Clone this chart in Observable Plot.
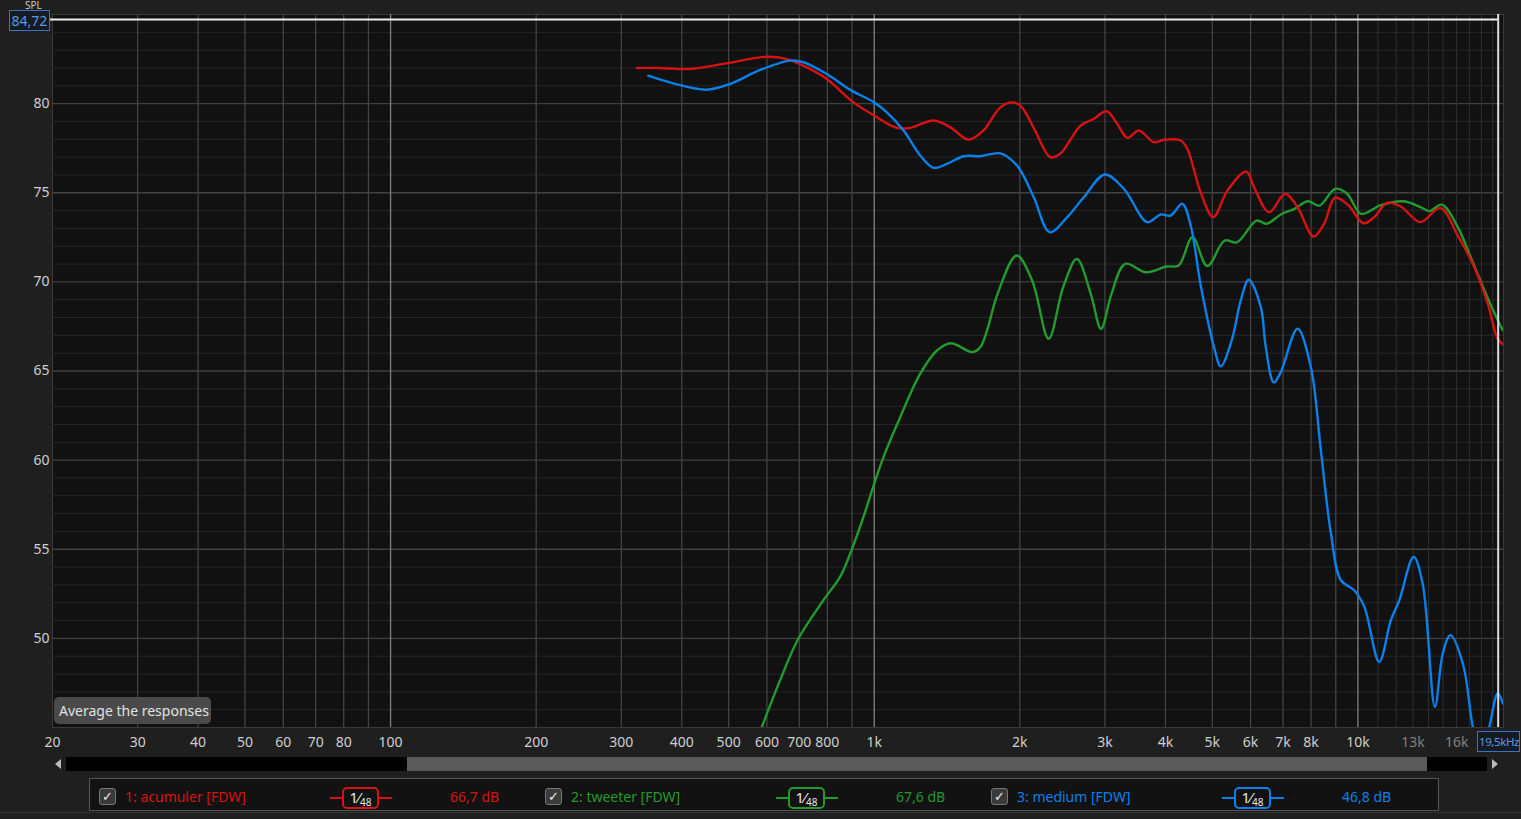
<!DOCTYPE html>
<html>
<head>
<meta charset="utf-8">
<script src="https://cdn.jsdelivr.net/npm/d3@7"></script>
<script src="https://cdn.jsdelivr.net/npm/@observablehq/plot@0.6"></script>
<style>
  html, body { margin: 0; padding: 0; background: #1f1f1f; overflow: hidden; }
  #wrap { position: relative; width: 1521px; height: 819px; font-family: "Noto Sans", "Open Sans", sans-serif; font-size: 14px; }
  #chart { position: absolute; left: 0; top: 0; }
  .abs { position: absolute; box-sizing: border-box; white-space: nowrap; }
  .cbox { position: absolute; box-sizing: border-box; width: 17px; height: 17px; border: 1px solid #777; border-radius: 3px; background: #3a3a3a; color: #eee; font-family: "DejaVu Sans", sans-serif; font-size: 13px; line-height: 15px; text-align: center; }
  .sbox .one { font-size: 15px; }
  .sbox .sl { font-size: 15px; }
  .sbox .den { font-size: 10px; position: relative; top: 3px; }
</style>
</head>
<body>
<div id="wrap">
  <div id="chart"></div>
</div>
<script>
// ---- data (frequency in Hz, level in dB SPL) ----
const acumulerHz = [323,360,416,495,600,660,726,798,906,1000,1114,1187,1327,1437,1568,1681,1823,1928,2006,2134,2314,2427,2670,2841,3022,3181,3337,3526,3787,3972,4300,4440,4732,5022,5373,5877,6100,6553,7072,7503,8096,8516,8960,9521,10270,10810,11480,12270,13460,14810,16090,17410,18560,19460,19940];
const acumulerDb = [82.0,82.0,81.95,82.26,82.63,82.5,82.03,81.38,80.07,79.33,78.64,78.64,79.05,78.67,77.98,78.49,79.79,80.07,79.89,78.67,76.99,77.2,78.77,79.14,79.57,78.86,78.08,78.49,77.83,77.97,77.93,77.46,75.01,73.63,75.12,76.19,75.31,73.91,74.94,74.19,72.54,73.26,74.71,74.34,73.29,73.63,74.43,74.23,73.35,74.15,72.6,70.82,68.77,66.8,66.5];

const tweeterHz = [572,639,697,785,850,892,950,1000,1045,1132,1245,1348,1441,1594,1657,1711,1799,1970,2121,2294,2458,2624,2803,2944,3094,3303,3645,4024,4260,4550,4882,5304,5618,6171,6481,6927,7406,7879,8332,8974,9488,10160,11160,12430,13530,14050,14910,16090,17220,18840,19940];
const tweeterDb = [44.3,47.66,49.99,52.14,53.45,54.76,56.81,58.68,60.17,62.42,64.85,66.15,66.56,66.06,66.34,67.28,69.33,71.48,70.08,66.81,69.7,71.29,69.33,67.37,69.33,71.01,70.54,70.86,70.92,72.51,70.89,72.32,72.21,73.44,73.26,73.78,74.11,74.52,74.28,75.22,74.96,73.82,74.31,74.52,74.17,73.97,74.33,73.07,71.2,68.68,67.28];

const mediumHz = [341,384,450,503,581,670,714,798,892,1000,1062,1150,1245,1327,1414,1531,1657,1823,1974,2137,2306,2506,2713,2998,3283,3669,3910,4101,4335,4511,4732,5041,5205,5484,5725,5947,6299,6449,6700,6927,7503,7992,8384,8794,9222,9824,10310,11070,11700,12180,13040,13610,14430,14980,15530,16480,17280,17980,18700,19460,19940];
const mediumDb = [81.57,81.14,80.78,81.1,81.89,82.41,82.32,81.66,80.77,80.07,79.51,78.49,77.09,76.4,76.62,77.05,77.05,77.21,76.52,74.75,72.79,73.63,74.75,76.02,75.22,73.35,73.78,73.72,74.38,73.16,69.8,66.34,65.26,66.72,68.96,70.12,68.58,66.34,64.36,64.94,67.37,65.22,60.55,55.9,53.26,52.7,51.77,48.68,51.02,52.14,54.57,53.08,46.16,49.15,50.18,48.59,45.04,43.2,45.04,46.91,46.35];

const seriesNames = ["1: acumuler [FDW]", "2: tweeter [FDW]", "3: medium [FDW]"];
const cursorValues = ["66,7 dB", "67,6 dB", "46,8 dB"];
const cursorHz = 19500;
const cursorDb = 84.72;

const xTickHz = [20,30,40,50,60,70,80,100,200,300,400,500,600,700,800,1000,2000,3000,4000,5000,6000,7000,8000,10000,13000,16000];
const dimTickHz = [13000,16000];
const gridHz = [30,40,50,60,70,80,90,200,300,400,500,600,700,800,900,2000,3000,4000,5000,6000,7000,8000,9000];
const fineGridHz = [11000,12000,13000,14000,15000,16000,17000,18000,19000];
const decadeHz = [100,1000,10000];
const yTicks = [50,55,60,65,70,75,80];
const yMinor = d3.range(46, 85).filter(v => v % 5 !== 0);

// ---- build ----
const colors = {red: "#d81212", green: "#229a2e", blue: "#0b80ea"};
const mk = (hz, db) => hz.map((f, i) => ({f, db: db[i]}));
const acumuler = mk(acumulerHz, acumulerDb);
const tweeter = mk(tweeterHz, tweeterDb);
const medium = mk(mediumHz, mediumDb);
const fmt = f => f >= 1000 ? (f / 1000) + "k" : String(f);

const W = 1521, H = 757;
const plot = Plot.plot({
  width: W, height: H,
  marginLeft: 52, marginRight: 18, marginTop: 14, marginBottom: 30,
  x: {type: "log", domain: [20, 20000], axis: null},
  y: {domain: [45, 85], axis: null},
  style: {background: "transparent", fontFamily: "'Noto Sans', 'Open Sans', sans-serif", fontSize: "14px", overflow: "visible"},
  marks: [
    Plot.frame({fill: "#111111", stroke: "#3a3a3a"}),
    Plot.ruleY(yMinor, {y: d => d, stroke: "#272727", strokeWidth: 1}),
    Plot.ruleY(yTicks, {y: d => d, stroke: "#414141", strokeWidth: 1.3}),
    Plot.ruleX(fineGridHz, {x: d => d, stroke: "#2f2f2f", strokeWidth: 1}),
    Plot.ruleX(gridHz, {x: d => d, stroke: "#434343", strokeWidth: 1.3}),
    Plot.ruleX(decadeHz, {x: d => d, stroke: "#808080", strokeWidth: 1.3}),
    Plot.line(tweeter, {x: "f", y: "db", stroke: colors.green, strokeWidth: 2.4, curve: "catmull-rom", clip: true}),
    Plot.line(acumuler, {x: "f", y: "db", stroke: colors.red, strokeWidth: 2.4, curve: "catmull-rom", clip: true}),
    Plot.line(medium, {x: "f", y: "db", stroke: colors.blue, strokeWidth: 2.4, curve: "catmull-rom", clip: true}),
    Plot.ruleY([cursorDb], {y: d => d, x1: 17.5, x2: cursorHz, stroke: "#eeeeee", strokeWidth: 2}),
    Plot.ruleX([cursorHz], {x: d => d, y1: 85, y2: 45, stroke: "#dddddd", strokeWidth: 2}),
    Plot.text(xTickHz, {x: d => d, frameAnchor: "bottom", dy: 19, text: fmt,
      fill: d => dimTickHz.includes(d) ? "#808080" : "#cfcfcf", fontSize: 14}),
    Plot.text(yTicks, {y: d => d, frameAnchor: "left", dx: -3, textAnchor: "end", text: d => String(d), fill: "#cfcfcf", fontSize: 14})
  ]
});
document.getElementById("chart").appendChild(plot);

// ---- overlays (UI text) ----
const wrap = document.getElementById("wrap");
function add(html, style) {
  const d = document.createElement("div");
  d.className = "abs";
  d.innerHTML = html;
  Object.assign(d.style, style);
  wrap.appendChild(d);
  return d;
}
add("SPL", {left: "25px", top: "0px", color: "#c8c8c8", fontSize: "10px", lineHeight: "10px"});
add(String(cursorDb).replace(".", ","), {left: "9px", top: "10px", width: "41px", height: "21px", border: "1px solid #3d72c0", background: "#161a22", color: "#5a98e6", textAlign: "center", lineHeight: "19px", fontSize: "14px"});
add((cursorHz / 1000).toString().replace(".", ",") + "kHz", {left: "1477px", top: "731px", width: "43px", height: "21px", border: "1px solid #3d72c0", background: "#161a22", color: "#5a98e6", lineHeight: "19px", fontSize: "11.5px", paddingLeft: "1px", letterSpacing: "-0.4px"});
add("Average the responses", {left: "54px", top: "697px", width: "157px", height: "27px", background: "#4a4a4a", borderRadius: "5px", color: "#e2e2e2", lineHeight: "27px", paddingLeft: "5px", fontSize: "14px"});

// scrollbar
add("", {left: "66px", top: "757px", width: "1421px", height: "14px", background: "#000"});
add("", {left: "407px", top: "757px", width: "1020px", height: "14px", background: "#5a5a5a"});
add("", {left: "55px", top: "759px", width: "0", height: "0", borderTop: "5px solid transparent", borderBottom: "5px solid transparent", borderRight: "6px solid #bbb"});
add("", {left: "1492px", top: "759px", width: "0", height: "0", borderTop: "5px solid transparent", borderBottom: "5px solid transparent", borderLeft: "6px solid #bbb"});

// legend panel
add("", {left: "89px", top: "778px", width: "1350px", height: "33px", border: "1px solid #555", background: "#121212"});
add("", {left: "0px", top: "812px", width: "1521px", height: "1px", background: "#333"});
const legendColors = [colors.red, colors.green, colors.blue];
const starts = [99, 545, 991];
seriesNames.forEach((name, i) => {
  const x0 = starts[i], c = legendColors[i];
  const cb = document.createElement("div");
  cb.className = "cbox"; cb.textContent = "✓";
  Object.assign(cb.style, {left: x0 + "px", top: "788px"});
  wrap.appendChild(cb);
  add(name, {left: (x0 + 26) + "px", top: "788px", color: c, fontSize: "14px", lineHeight: "18px"});
  add("", {left: (x0 + 231) + "px", top: "797px", width: "62px", height: "2px", background: c});
  const sb = add('<span class="one">1</span><span class="sl">⁄</span><span class="den">48</span>',
    {left: (x0 + 243) + "px", top: "787px", width: "37px", height: "22px", border: "2px solid " + c, borderRadius: "5px", background: "#111", color: "#e6e6e6", textAlign: "center", lineHeight: "17px"});
  sb.classList.add("sbox");
  add(cursorValues[i], {left: (x0 + 351) + "px", top: "788px", color: c, fontSize: "14px", lineHeight: "18px"});
});
</script>
</body>
</html>
